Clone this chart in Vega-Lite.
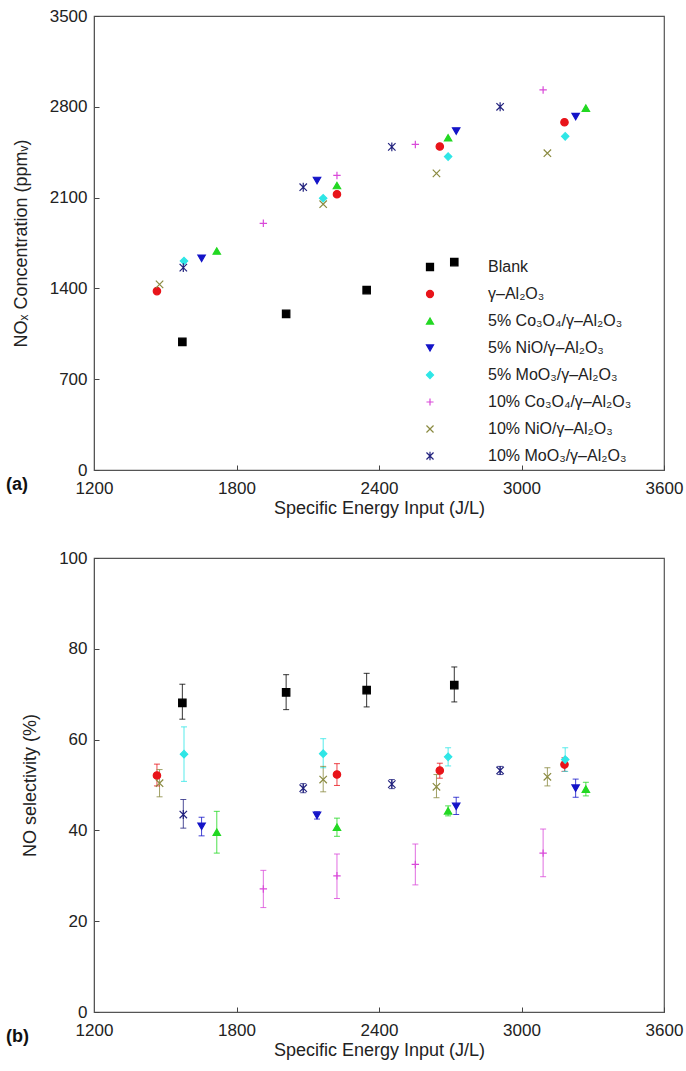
{
  "$schema": "https://vega.github.io/schema/vega-lite/v6.json",
  "padding": {"left": 5, "top": 6, "right": 2, "bottom": 6},
  "background": "white",
  "config": {
    "font": "Liberation Sans",
    "view": {"stroke": "#555", "strokeWidth": 1.2},
    "axis": {"grid": false, "domainColor": "#555", "tickColor": "#444", "tickSize": -5, "labelFontSize": 17, "titleFontSize": 18, "labelColor": "#222", "titleColor": "#222", "titleFontWeight": "normal", "labelFlush": false, "format": "d"},
    "axisX": {"labelPadding": 15, "titlePadding": 3},
    "axisY": {"labelPadding": 12, "titlePadding": 19},
    "legend": {"labelFontSize": 16, "labelColor": "#222", "symbolSize": 50, "rowPadding": 11, "labelOffset": 50, "symbolStrokeWidth": 1.2}
  },
  "datasets": {
    "pts": [
      {"s": "Blank", "sei": 1572, "nox": 988, "sel": 68.1, "lo": 64.5, "hi": 72.2},
      {"s": "Blank", "sei": 2009, "nox": 1204, "sel": 70.4, "lo": 66.6, "hi": 74.3},
      {"s": "Blank", "sei": 2348, "nox": 1387, "sel": 70.9, "lo": 67.2, "hi": 74.6},
      {"s": "Blank", "sei": 2717, "nox": 1603, "sel": 72.0, "lo": 68.3, "hi": 76.0},
      {"s": "γ–Al₂O₃", "sei": 1465, "nox": 1379, "sel": 52.1, "lo": 49.8, "hi": 54.6},
      {"s": "γ–Al₂O₃", "sei": 2223, "nox": 2126, "sel": 52.3, "lo": 49.9, "hi": 54.7},
      {"s": "γ–Al₂O₃", "sei": 2656, "nox": 2494, "sel": 53.2, "lo": 51.5, "hi": 54.8},
      {"s": "γ–Al₂O₃", "sei": 3181, "nox": 2681, "sel": 54.5, "lo": 53.0, "hi": 56.0},
      {"s": "5% Co₃O₄/γ–Al₂O₃", "sei": 1717, "nox": 1688, "sel": 39.6, "lo": 35.0, "hi": 44.2},
      {"s": "5% Co₃O₄/γ–Al₂O₃", "sei": 2223, "nox": 2193, "sel": 40.7, "lo": 38.7, "hi": 42.7},
      {"s": "5% Co₃O₄/γ–Al₂O₃", "sei": 2691, "nox": 2561, "sel": 44.3, "lo": 43.2, "hi": 45.4},
      {"s": "5% Co₃O₄/γ–Al₂O₃", "sei": 3271, "nox": 2790, "sel": 49.1, "lo": 47.6, "hi": 50.6},
      {"s": "5% NiO/γ–Al₂O₃", "sei": 1653, "nox": 1632, "sel": 40.9, "lo": 38.8, "hi": 42.9},
      {"s": "5% NiO/γ–Al₂O₃", "sei": 2139, "nox": 2232, "sel": 43.3, "lo": 42.5, "hi": 44.1},
      {"s": "5% NiO/γ–Al₂O₃", "sei": 2725, "nox": 2613, "sel": 45.3, "lo": 43.5, "hi": 47.3},
      {"s": "5% NiO/γ–Al₂O₃", "sei": 3228, "nox": 2725, "sel": 49.3, "lo": 47.3, "hi": 51.3},
      {"s": "5% MoO₃/γ–Al₂O₃", "sei": 1579, "nox": 1611, "sel": 56.8, "lo": 50.8, "hi": 62.8},
      {"s": "5% MoO₃/γ–Al₂O₃", "sei": 2165, "nox": 2095, "sel": 56.9, "lo": 53.8, "hi": 60.2},
      {"s": "5% MoO₃/γ–Al₂O₃", "sei": 2691, "nox": 2416, "sel": 56.2, "lo": 54.2, "hi": 58.2},
      {"s": "5% MoO₃/γ–Al₂O₃", "sei": 3184, "nox": 2572, "sel": 55.6, "lo": 53.0, "hi": 58.2},
      {"s": "10% Co₃O₄/γ–Al₂O₃", "sei": 1913, "nox": 1902, "sel": 27.1, "lo": 23.0, "hi": 31.2},
      {"s": "10% Co₃O₄/γ–Al₂O₃", "sei": 2223, "nox": 2271, "sel": 30.0, "lo": 25.0, "hi": 34.8},
      {"s": "10% Co₃O₄/γ–Al₂O₃", "sei": 2553, "nox": 2510, "sel": 32.5, "lo": 28.0, "hi": 37.0},
      {"s": "10% Co₃O₄/γ–Al₂O₃", "sei": 3091, "nox": 2930, "sel": 35.0, "lo": 29.8, "hi": 40.3},
      {"s": "10% NiO/γ–Al₂O₃", "sei": 1476, "nox": 1431, "sel": 50.4, "lo": 47.4, "hi": 53.4},
      {"s": "10% NiO/γ–Al₂O₃", "sei": 2165, "nox": 2049, "sel": 51.2, "lo": 48.5, "hi": 54.1},
      {"s": "10% NiO/γ–Al₂O₃", "sei": 2642, "nox": 2287, "sel": 49.6, "lo": 47.2, "hi": 52.3},
      {"s": "10% NiO/γ–Al₂O₃", "sei": 3109, "nox": 2442, "sel": 51.8, "lo": 49.8, "hi": 53.8},
      {"s": "10% MoO₃/γ–Al₂O₃", "sei": 1576, "nox": 1560, "sel": 43.5, "lo": 40.5, "hi": 46.8},
      {"s": "10% MoO₃/γ–Al₂O₃", "sei": 2081, "nox": 2180, "sel": 49.3, "lo": 48.3, "hi": 50.3},
      {"s": "10% MoO₃/γ–Al₂O₃", "sei": 2454, "nox": 2491, "sel": 50.2, "lo": 49.2, "hi": 51.2},
      {"s": "10% MoO₃/γ–Al₂O₃", "sei": 2910, "nox": 2800, "sel": 53.2, "lo": 52.3, "hi": 54.1}
    ]
  },
  "spacing": 88,
  "bounds": "flush",
  "vconcat": [
    {
      "width": 570,
      "height": 454,
      "data": {"name": "pts"},
      "title": {"text": "(a)", "orient": "bottom", "anchor": "start", "frame": "group", "fontSize": 18, "fontWeight": "bold", "color": "#111", "dx": -88, "dy": -45},
      "mark": {"type": "point", "filled": true, "size": 55, "strokeWidth": 1.2, "opacity": 1},
      "encoding": {
        "x": {"field": "sei", "type": "quantitative", "scale": {"domain": [1200, 3600], "nice": false, "zero": false}, "axis": {"values": [1200, 1800, 2400, 3000, 3600], "title": "Specific Energy Input (J/L)"}},
        "y": {"field": "nox", "type": "quantitative", "scale": {"domain": [0, 3500], "nice": false}, "axis": {"values": [0, 700, 1400, 2100, 2800, 3500], "title": "NOₓ Concentration (ppmᵥ)"}},
        "color": {"field": "s", "type": "nominal", "scale": {"domain": ["Blank", "γ–Al₂O₃", "5% Co₃O₄/γ–Al₂O₃", "5% NiO/γ–Al₂O₃", "5% MoO₃/γ–Al₂O₃", "10% Co₃O₄/γ–Al₂O₃", "10% NiO/γ–Al₂O₃", "10% MoO₃/γ–Al₂O₃"], "range": ["#000000", "#e8141a", "#22d822", "#1414c8", "#2ee6e6", "#d94ad9", "#8a8a40", "#22227e"]}, "legend": {"title": null, "orient": "none", "legendX": 328, "legendY": 243}},
        "stroke": {"field": "s", "type": "nominal", "scale": {"domain": ["Blank", "γ–Al₂O₃", "5% Co₃O₄/γ–Al₂O₃", "5% NiO/γ–Al₂O₃", "5% MoO₃/γ–Al₂O₃", "10% Co₃O₄/γ–Al₂O₃", "10% NiO/γ–Al₂O₃", "10% MoO₃/γ–Al₂O₃"], "range": ["#000000", "#e8141a", "#22d822", "#1414c8", "#2ee6e6", "#d94ad9", "#8a8a40", "#22227e"]}, "legend": {"title": null, "orient": "none", "legendX": 328, "legendY": 243}},
        "shape": {"field": "s", "type": "nominal", "scale": {"domain": ["Blank", "γ–Al₂O₃", "5% Co₃O₄/γ–Al₂O₃", "5% NiO/γ–Al₂O₃", "5% MoO₃/γ–Al₂O₃", "10% Co₃O₄/γ–Al₂O₃", "10% NiO/γ–Al₂O₃", "10% MoO₃/γ–Al₂O₃"], "range": ["square", "circle", "triangle-up", "triangle-down", "diamond", "M-1,0L1,0M0,-1L0,1", "M-1,-1L1,1M-1,1L1,-1", "M-1,-1L1,1M-1,1L1,-1M0,-1.2L0,1.2"]}, "legend": {"title": null, "orient": "none", "legendX": 328, "legendY": 243}}
      }
    },
    {
      "width": 570,
      "height": 454,
      "data": {"name": "pts"},
      "title": {"text": "(b)", "orient": "bottom", "anchor": "start", "frame": "group", "fontSize": 18, "fontWeight": "bold", "color": "#111", "dx": -88, "dy": -35},
      "encoding": {
        "x": {"field": "sei", "type": "quantitative", "scale": {"domain": [1200, 3600], "nice": false, "zero": false}, "axis": {"values": [1200, 1800, 2400, 3000, 3600], "title": "Specific Energy Input (J/L)"}}
      },
      "layer": [
        {
          "mark": {"type": "rule", "strokeWidth": 1, "opacity": 0.8},
          "encoding": {
            "y": {"field": "lo", "type": "quantitative", "scale": {"domain": [0, 100], "nice": false}, "axis": {"values": [0, 20, 40, 60, 80, 100], "title": "NO selectivity (%)"}},
            "y2": {"field": "hi"},
            "color": {"field": "s", "type": "nominal", "scale": {"domain": ["Blank", "γ–Al₂O₃", "5% Co₃O₄/γ–Al₂O₃", "5% NiO/γ–Al₂O₃", "5% MoO₃/γ–Al₂O₃", "10% Co₃O₄/γ–Al₂O₃", "10% NiO/γ–Al₂O₃", "10% MoO₃/γ–Al₂O₃"], "range": ["#000000", "#e8141a", "#22d822", "#1414c8", "#2ee6e6", "#d94ad9", "#8a8a40", "#22227e"]}, "legend": null}
          }
        },
        {
          "mark": {"type": "tick", "orient": "horizontal", "size": 6, "thickness": 1, "opacity": 0.8},
          "encoding": {
            "y": {"field": "lo", "type": "quantitative"},
            "color": {"field": "s", "type": "nominal", "legend": null}
          }
        },
        {
          "mark": {"type": "tick", "orient": "horizontal", "size": 6, "thickness": 1, "opacity": 0.8},
          "encoding": {
            "y": {"field": "hi", "type": "quantitative"},
            "color": {"field": "s", "type": "nominal", "legend": null}
          }
        },
        {
          "mark": {"type": "point", "filled": true, "size": 55, "strokeWidth": 1.2, "opacity": 1},
          "encoding": {
            "y": {"field": "sel", "type": "quantitative"},
            "color": {"field": "s", "type": "nominal", "legend": null},
            "stroke": {"field": "s", "type": "nominal", "scale": {"domain": ["Blank", "γ–Al₂O₃", "5% Co₃O₄/γ–Al₂O₃", "5% NiO/γ–Al₂O₃", "5% MoO₃/γ–Al₂O₃", "10% Co₃O₄/γ–Al₂O₃", "10% NiO/γ–Al₂O₃", "10% MoO₃/γ–Al₂O₃"], "range": ["#000000", "#e8141a", "#22d822", "#1414c8", "#2ee6e6", "#d94ad9", "#8a8a40", "#22227e"]}, "legend": null},
            "shape": {"field": "s", "type": "nominal", "scale": {"domain": ["Blank", "γ–Al₂O₃", "5% Co₃O₄/γ–Al₂O₃", "5% NiO/γ–Al₂O₃", "5% MoO₃/γ–Al₂O₃", "10% Co₃O₄/γ–Al₂O₃", "10% NiO/γ–Al₂O₃", "10% MoO₃/γ–Al₂O₃"], "range": ["square", "circle", "triangle-up", "triangle-down", "diamond", "M-1,0L1,0M0,-1L0,1", "M-1,-1L1,1M-1,1L1,-1", "M-1,-1L1,1M-1,1L1,-1M0,-1.2L0,1.2"]}, "legend": null}
          }
        }
      ]
    }
  ],
  "resolve": {"legend": {"color": "independent", "stroke": "independent", "shape": "independent"}}
}
